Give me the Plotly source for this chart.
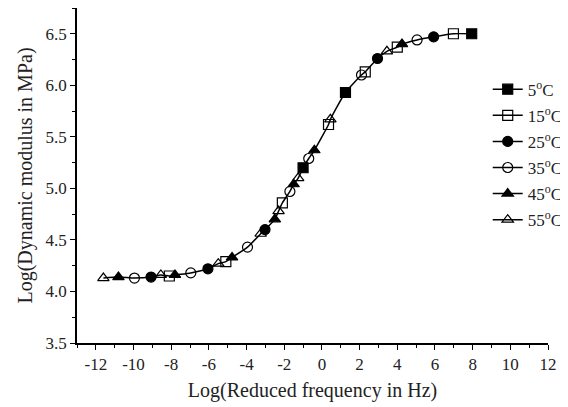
import plotly.graph_objects as go

# Data
labels = ["5<sup>o</sup>C", "15<sup>o</sup>C", "25<sup>o</sup>C", "35<sup>o</sup>C", "45<sup>o</sup>C", "55<sup>o</sup>C"]
symbols = ["square", "square-open", "circle", "circle-open", "triangle-up", "triangle-up-open"]

x_5 = [-1.0, 1.25, 7.95]
y_5 = [5.20, 5.93, 6.50]
x_15 = [-8.1, -5.1, -2.1, 0.35, 2.3, 4.0, 6.98]
y_15 = [4.15, 4.29, 4.86, 5.62, 6.13, 6.37, 6.50]
x_25 = [-9.07, -6.05, -3.02, 2.95, 5.93]
y_25 = [4.14, 4.22, 4.60, 6.26, 6.47]
x_35 = [-9.95, -6.96, -3.95, -1.7, -0.7, 2.1, 5.05]
y_35 = [4.13, 4.18, 4.43, 4.97, 5.29, 6.10, 6.44]
x_45 = [-10.8, -7.8, -4.77, -2.5, -1.5, -0.4, 4.25]
y_45 = [4.14, 4.16, 4.33, 4.70, 5.04, 5.37, 6.40]
x_55 = [-11.6, -8.55, -5.5, -3.25, -2.3, -1.26, 0.45, 3.45]
y_55 = [4.13, 4.16, 4.27, 4.56, 4.78, 5.10, 5.67, 6.33]

x_ticks = [-12, -10, -8, -6, -4, -2, 0, 2, 4, 6, 8, 10, 12]
x_ticktext = ["-12", "-10", "-8", "-6", "-4", "-2", "0", "2", "4", "6", "8", "10", "12"]
y_ticks = [3.5, 4.0, 4.5, 5.0, 5.5, 6.0, 6.5]
y_ticktext = ["3.5", "4.0", "4.5", "5.0", "5.5", "6.0", "6.5"]

xs = [x_5, x_15, x_25, x_35, x_45, x_55]
ys = [y_5, y_15, y_25, y_35, y_45, y_55]

FONT = "Liberation Serif, Times New Roman, serif"

fig = go.Figure()

# master curve through all measured points, in order of frequency
pts = sorted(zip(sum(xs, []), sum(ys, [])))
fig.add_trace(go.Scatter(x=[p[0] for p in pts], y=[p[1] for p in pts], mode="lines",
                         line=dict(color="black", width=1.5, shape="spline", smoothing=0.6),
                         showlegend=False, hoverinfo="skip"))

for i, (lab, sym, xv, yv) in enumerate(zip(labels, symbols, xs, ys)):
    fig.add_trace(go.Scatter(x=xv, y=yv, mode="markers", showlegend=False,
                             marker=dict(symbol=sym, size=10, color="black",
                                         line=dict(color="black", width=1.2))))
    # legend entry (line + marker)
    fig.add_trace(go.Scatter(x=[None], y=[None], mode="lines+markers", name=lab,
                             legendgroup=f"g{i}",
                             marker=dict(symbol=sym, size=10, color="black",
                                         line=dict(color="black", width=1.2)),
                             line=dict(color="black", width=1.5)))

axis_common = dict(showline=True, linecolor="black", linewidth=1.5, ticks="outside",
                   ticklen=5, tickwidth=1.2, tickcolor="black", showgrid=False, zeroline=False,
                   automargin=False,
                   tickfont=dict(family=FONT, size=17, color="#222"))

fig.update_layout(
    width=560, height=399,
    margin=dict(l=69, r=16, t=0, b=64),
    paper_bgcolor="white", plot_bgcolor="white",
    font=dict(family=FONT, size=17, color="#222"),
    xaxis=dict(range=[-13, 12], tickvals=x_ticks, ticktext=x_ticktext,
               minor=dict(dtick=1, tick0=-13, ticks="outside", ticklen=3, tickcolor="black"),
               title=dict(text="Log(Reduced frequency in Hz)", font=dict(family=FONT, size=20), standoff=10),
               **axis_common),
    yaxis=dict(range=[3.5, 6.75], tickvals=y_ticks, ticktext=y_ticktext,
               minor=dict(dtick=0.25, tick0=3.5, ticks="outside", ticklen=3, tickcolor="black"),
               title=dict(text="Log(Dynamic modulus in MPa)", font=dict(family=FONT, size=20), standoff=8),
               **axis_common),
    legend=dict(x=0.872, y=0.81, xanchor="left", yanchor="top", bgcolor="rgba(0,0,0,0)",
                font=dict(family=FONT, size=17, color="#222"), tracegroupgap=1),
)

fig.write_html("out.html")
